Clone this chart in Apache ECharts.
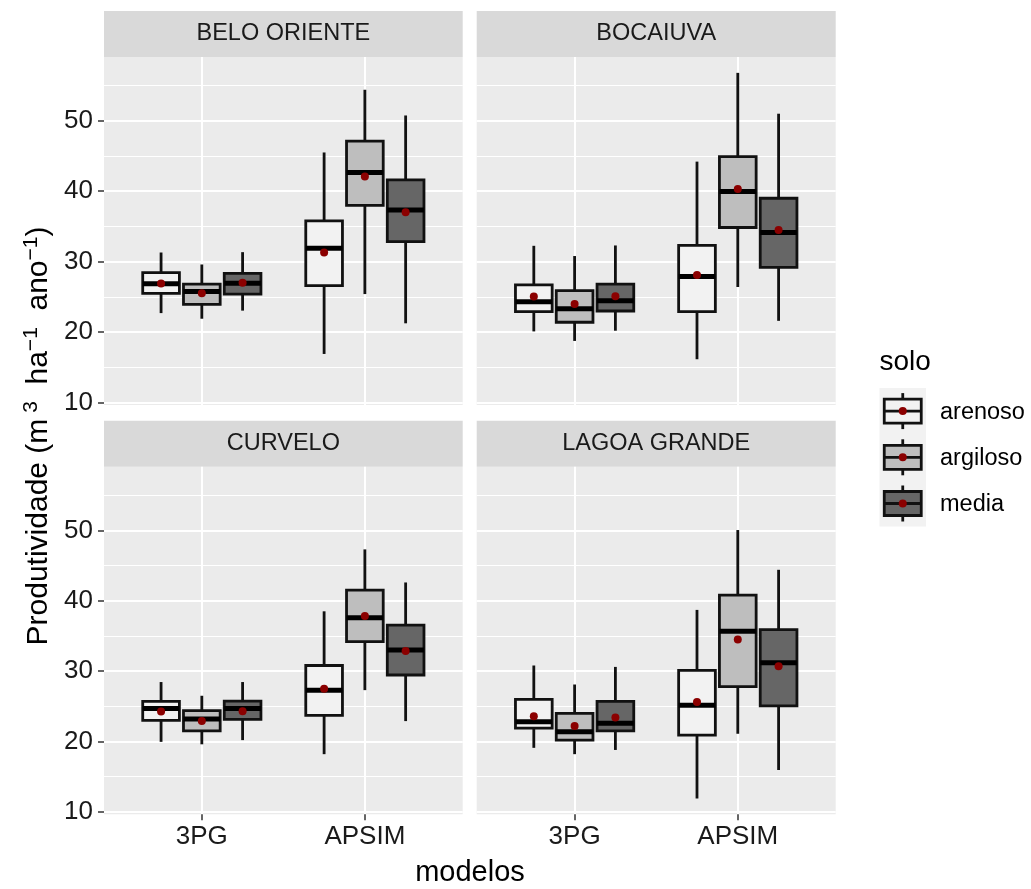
<!DOCTYPE html>
<html>
<head>
<meta charset="utf-8">
<script src="https://cdn.jsdelivr.net/npm/echarts@6/dist/echarts.min.js"></script>
<style>
html,body{margin:0;padding:0;background:#fff;}
#chart{width:1031px;height:889px;}
</style>
</head>
<body>
<div id="chart"></div>
<script>
// ---------------- data ----------------
const sites = ['BELO ORIENTE', 'BOCAIUVA', 'CURVELO', 'LAGOA GRANDE'];
const models = ['3PG', 'APSIM'];
const soils = ['arenoso', 'argiloso', 'media'];
const yTicks = [10, 20, 30, 40, 50];
const yMinorTicks = [15, 25, 35, 45, 55];

// five-number summaries [min, q1, median, q3, max]
// rows: 3PG arenoso, 3PG argiloso, 3PG media, APSIM arenoso, APSIM argiloso, APSIM media
const beloOrienteBox = [
  [22.7, 25.5, 26.85, 28.45, 31.3],
  [21.9, 23.95, 25.75, 26.8, 29.6],
  [23.05, 25.4, 26.95, 28.35, 31.35],
  [16.9, 26.6, 31.9, 35.8, 45.5],
  [25.4, 38.0, 42.65, 47.1, 54.4],
  [21.25, 32.85, 37.35, 41.6, 50.75]
];
const beloOrienteMean = [26.9, 25.5, 27.0, 31.3, 42.1, 37.0];

const bocaiuvaBox = [
  [20.1, 22.9, 24.3, 26.7, 32.25],
  [18.75, 21.4, 23.3, 25.9, 30.8],
  [20.2, 23.0, 24.45, 26.8, 32.3],
  [16.15, 22.9, 27.9, 32.3, 44.2],
  [26.4, 34.85, 39.95, 44.9, 56.8],
  [21.6, 29.2, 34.15, 39.0, 51.0]
];
const bocaiuvaMean = [25.05, 24.0, 25.1, 28.1, 40.3, 34.5];

const curveloBox = [
  [19.95, 23.0, 24.7, 25.7, 28.45],
  [19.6, 21.5, 23.2, 24.4, 26.5],
  [20.2, 23.15, 24.7, 25.75, 28.45],
  [18.2, 23.7, 27.3, 30.8, 38.5],
  [27.3, 34.2, 37.6, 41.5, 47.3],
  [22.9, 29.45, 33.0, 36.55, 42.6]
];
const curveloMean = [24.25, 22.9, 24.3, 27.5, 37.85, 32.85];

const lagoaGrandeBox = [
  [19.1, 21.9, 22.8, 26.0, 30.8],
  [18.2, 20.2, 21.4, 24.0, 28.1],
  [18.8, 21.5, 22.6, 25.7, 30.6],
  [11.9, 20.9, 25.15, 30.1, 38.7],
  [21.1, 27.8, 35.65, 40.8, 50.05],
  [15.95, 25.05, 31.2, 35.9, 44.4]
];
const lagoaGrandeMean = [23.6, 22.2, 23.4, 25.6, 34.5, 30.7];

// ---------------- styling / layout ----------------
const boxes = [beloOrienteBox, bocaiuvaBox, curveloBox, lagoaGrandeBox];
const means = [beloOrienteMean, bocaiuvaMean, curveloMean, lagoaGrandeMean];
const FONT = '"Liberation Sans", Arial, Helvetica, sans-serif';
const fills = ['#f2f2f2', '#bebebe', '#666666'];
const DODGE = 0.25, BOXW = 0.225;
const Y_MIN = 9.655, Y_MAX = 59.05;
const LINE_W = 2.8;

const panels = [
  {left: 104, top: 57, width: 358.7, height: 348},
  {left: 476.7, top: 57, width: 359, height: 348},
  {left: 104, top: 466.7, width: 358.7, height: 347.6},
  {left: 476.7, top: 466.7, width: 359, height: 347.6}
];
const STRIP_H = 46;

const chart = echarts.init(document.getElementById('chart'), null, {renderer: 'canvas'});

const grid = panels.map(p => ({
  left: p.left, top: p.top, width: p.width, height: p.height,
  show: true, backgroundColor: '#ebebeb', borderWidth: 0, containLabel: false
}));

const xAxis = panels.map((p, i) => {
  const bottom = i >= 2;
  return {
    type: 'value', gridIndex: i, min: 0.4, max: 2.6,
    axisLine: {show: false},
    axisTick: {show: bottom, customValues: [1, 2], length: 6, lineStyle: {color: '#333', width: 1.5}},
    axisLabel: {show: bottom, customValues: [1, 2], margin: 10,
      formatter: v => models[Math.round(v) - 1] || '',
      fontSize: 26, color: '#1a1a1a', fontFamily: FONT},
    splitLine: {show: true, lineStyle: {color: '#ffffff', width: 2}}
  };
});

const yAxis = [];
panels.forEach((p, i) => {
  const left = i % 2 === 0;
  yAxis.push({
    type: 'value', gridIndex: i, min: Y_MIN, max: Y_MAX,
    axisLine: {show: false},
    axisTick: {show: left, customValues: yTicks, length: 6, lineStyle: {color: '#333', width: 1.5}},
    axisLabel: {show: left, customValues: yTicks, margin: 11, fontSize: 26, color: '#1a1a1a', fontFamily: FONT},
    splitLine: {show: true, lineStyle: {color: '#ffffff', width: 2}},
    z: 1
  });
  yAxis.push({
    type: 'value', gridIndex: i, min: Y_MIN, max: Y_MAX,
    axisLine: {show: false},
    axisTick: {show: false, customValues: yMinorTicks},
    axisLabel: {show: false, customValues: yMinorTicks},
    splitLine: {show: true, lineStyle: {color: '#ffffff', width: 1}},
    z: 0
  });
});

function makeRenderer(k) {
  return function (params, api) {
    const x = api.value(0) + (k - 1) * DODGE;
    const pLo = api.coord([x, api.value(1)]);
    const pQ1 = api.coord([x, api.value(2)]);
    const pMed = api.coord([x, api.value(3)]);
    const pQ3 = api.coord([x, api.value(4)]);
    const pHi = api.coord([x, api.value(5)]);
    const hw = api.size([BOXW, 0])[0] / 2;
    const cx = pMed[0];
    const ls = {stroke: '#111', lineWidth: LINE_W};
    return {
      type: 'group',
      children: [
        {type: 'line', shape: {x1: cx, y1: pHi[1], x2: cx, y2: pQ3[1]}, style: ls},
        {type: 'line', shape: {x1: cx, y1: pQ1[1], x2: cx, y2: pLo[1]}, style: ls},
        {type: 'rect', shape: {x: cx - hw, y: pQ3[1], width: hw * 2, height: pQ1[1] - pQ3[1]},
          style: {fill: fills[k], stroke: '#111', lineWidth: LINE_W}},
        {type: 'line', shape: {x1: cx - hw, y1: pMed[1], x2: cx + hw, y2: pMed[1]},
          style: {stroke: '#000', lineWidth: 5}}
      ]
    };
  };
}

const series = [];
sites.forEach((site, s) => {
  soils.forEach((soil, k) => {
    series.push({
      type: 'custom', name: soil, xAxisIndex: s, yAxisIndex: 2 * s,
      renderItem: makeRenderer(k),
      encode: {x: 0, y: [1, 2, 3, 4, 5]},
      data: models.map((m, mi) => [mi + 1].concat(boxes[s][mi * 3 + k])),
      z: 3, silent: true
    });
  });
  soils.forEach((soil, k) => {
    series.push({
      type: 'scatter', name: soil + ' mean', xAxisIndex: s, yAxisIndex: 2 * s,
      symbol: 'circle', symbolSize: 8,
      itemStyle: {color: '#8b0000', opacity: 1},
      data: models.map((m, mi) => [mi + 1 + (k - 1) * DODGE, means[s][mi * 3 + k]]),
      z: 5, silent: true
    });
  });
});

// strips, titles, legend
const graphic = [];
panels.forEach((p, i) => {
  graphic.push({
    type: 'rect', shape: {x: p.left, y: p.top - STRIP_H, width: p.width, height: STRIP_H},
    style: {fill: '#d9d9d9'}, silent: true
  });
  graphic.push({
    type: 'text', x: p.left + p.width / 2, y: p.top - STRIP_H / 2,
    style: {text: sites[i], fontSize: 23.5, fontFamily: FONT, fill: '#1a1a1a', align: 'center', verticalAlign: 'middle'},
    silent: true
  });
});

graphic.push({
  type: 'text', x: 39, y: 436, rotation: Math.PI / 2,
  style: {
    text: '{b|Produtividade (m}{s| 3}{b|  ha}{s|−1}{b|  ano}{s|−1}{b|)}',
    align: 'center', verticalAlign: 'middle', fill: '#000', fontFamily: FONT,
    rich: {
      b: {fontSize: 30, fontFamily: FONT, fill: '#000', lineHeight: 36},
      s: {fontSize: 21, fontFamily: FONT, fill: '#000', lineHeight: 14, verticalAlign: 'top'}
    }
  },
  silent: true
});
graphic.push({
  type: 'text', x: 470, y: 873,
  style: {text: 'modelos', fontSize: 29, fontFamily: FONT, fill: '#000', align: 'center', verticalAlign: 'middle'},
  silent: true
});

// legend
const LX = 879.5, LY = 388, KW = 46.5, KH = 46.2;
graphic.push({
  type: 'text', x: LX, y: 362,
  style: {text: 'solo', fontSize: 28, fontFamily: FONT, fill: '#000', align: 'left', verticalAlign: 'middle'},
  silent: true
});
graphic.push({
  type: 'rect', shape: {x: LX, y: LY, width: KW, height: KH * soils.length},
  style: {fill: '#f2f2f2'}, silent: true
});
soils.forEach((soil, k) => {
  const cy = LY + KH * k + KH / 2;
  const cx = LX + KW / 2;
  graphic.push({
    type: 'group', silent: true,
    children: [
      {type: 'line', shape: {x1: cx, y1: cy - 18, x2: cx, y2: cy + 18}, style: {stroke: '#111', lineWidth: LINE_W}},
      {type: 'rect', shape: {x: cx - 18.5, y: cy - 12, width: 37, height: 24},
        style: {fill: fills[k], stroke: '#111', lineWidth: LINE_W}},
      {type: 'line', shape: {x1: cx - 18.5, y1: cy, x2: cx + 18.5, y2: cy}, style: {stroke: '#111', lineWidth: LINE_W}},
      {type: 'circle', shape: {cx: cx, cy: cy, r: 4}, style: {fill: '#8b0000'}}
    ]
  });
  graphic.push({
    type: 'text', x: 940, y: cy + 1,
    style: {text: soil, fontSize: 23.5, fontFamily: FONT, fill: '#000', align: 'left', verticalAlign: 'middle'},
    silent: true
  });
});

chart.setOption({
  animation: false,
  backgroundColor: '#ffffff',
  grid: grid,
  xAxis: xAxis,
  yAxis: yAxis,
  series: series,
  graphic: graphic
});
</script>
</body>
</html>
